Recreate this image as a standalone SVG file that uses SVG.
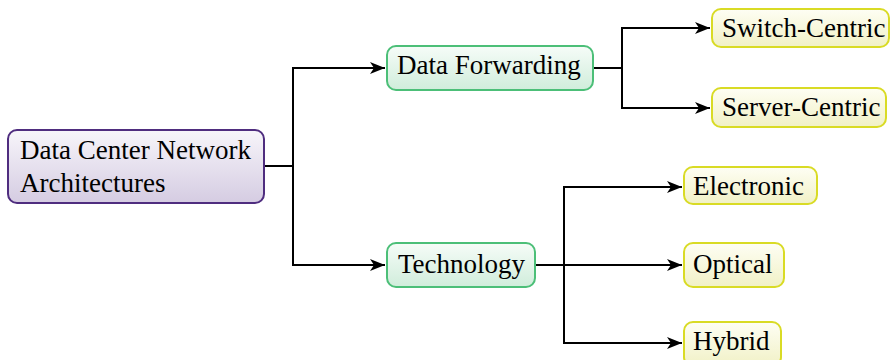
<svg xmlns="http://www.w3.org/2000/svg" width="891" height="360" viewBox="0 0 891 360">
  <defs>
    <linearGradient id="gRoot" x1="0" y1="0" x2="0" y2="1">
      <stop offset="0" stop-color="#f7f5fa"/>
      <stop offset="1" stop-color="#d5cce2"/>
    </linearGradient>
    <linearGradient id="gMid" x1="0" y1="0" x2="0" y2="1">
      <stop offset="0" stop-color="#f6fcf8"/>
      <stop offset="1" stop-color="#d0eddb"/>
    </linearGradient>
    <linearGradient id="gLeaf" x1="0" y1="0" x2="0" y2="1">
      <stop offset="0" stop-color="#fefef4"/>
      <stop offset="1" stop-color="#f1f1c6"/>
    </linearGradient>
    <marker id="arrow" markerUnits="userSpaceOnUse" markerWidth="18" markerHeight="14" refX="16" refY="7" orient="auto">
      <path d="M16,7 L1,1 L5,7 L1,13 Z" fill="#000"/>
    </marker>
  </defs>
  <style>
    .root { fill: url(#gRoot); stroke: #4f2d7f; stroke-width: 2; }
    .mid { fill: url(#gMid); stroke: #4cbf78; stroke-width: 2; }
    .leaf { fill: url(#gLeaf); stroke: #d9db25; stroke-width: 2; }
    .edge { fill: none; stroke: #000; stroke-width: 2; }
  </style>

  <g id="connectors">
    <!-- root to second level -->
    <path class="edge" d="M264,166 H293 M293,67 V266"/>
    <path class="edge" d="M293,68 H385" marker-end="url(#arrow)"/>
    <path class="edge" d="M293,265 H385" marker-end="url(#arrow)"/>
    <!-- Data Forwarding children -->
    <path class="edge" d="M593,68 H622 M622,27 V109"/>
    <path class="edge" d="M622,28 H710" marker-end="url(#arrow)"/>
    <path class="edge" d="M622,108 H710" marker-end="url(#arrow)"/>
    <!-- Technology children -->
    <path class="edge" d="M535,265 H564 M564,186 V344"/>
    <path class="edge" d="M564,187 H682" marker-end="url(#arrow)"/>
    <path class="edge" d="M564,265 H682" marker-end="url(#arrow)"/>
    <path class="edge" d="M564,343 H682" marker-end="url(#arrow)"/>
  </g>

  <g font-family="'Liberation Serif', Tinos, 'DejaVu Serif', serif" font-size="27" fill="#000">
    <g id="node-root">
      <rect class="root" x="8" y="130" width="256" height="73" rx="9"/>
      <text x="20" y="159">Data Center Network</text>
      <text x="20" y="192">Architectures</text>
    </g>

    <g id="node-data-forwarding">
      <rect class="mid" x="387" y="46" width="206" height="44" rx="9"/>
      <text x="397" y="74">Data Forwarding</text>
    </g>

    <g id="node-technology">
      <rect class="mid" x="387" y="243" width="148" height="44" rx="9"/>
      <text x="398" y="273">Technology</text>
    </g>

    <g id="node-switch-centric">
      <rect class="leaf" x="712" y="9" width="177" height="38" rx="9"/>
      <text x="722" y="37">Switch-Centric</text>
    </g>

    <g id="node-server-centric">
      <rect class="leaf" x="712" y="88" width="174" height="39" rx="9"/>
      <text x="722" y="116">Server-Centric</text>
    </g>

    <g id="node-electronic">
      <rect class="leaf" x="684" y="167" width="133" height="37" rx="9"/>
      <text x="693" y="195">Electronic</text>
    </g>

    <g id="node-optical">
      <rect class="leaf" x="684" y="243" width="100" height="44" rx="9"/>
      <text x="693" y="273">Optical</text>
    </g>

    <g id="node-hybrid">
      <rect class="leaf" x="684" y="322" width="97" height="44" rx="9"/>
      <text x="693" y="350">Hybrid</text>
    </g>
  </g>
</svg>
